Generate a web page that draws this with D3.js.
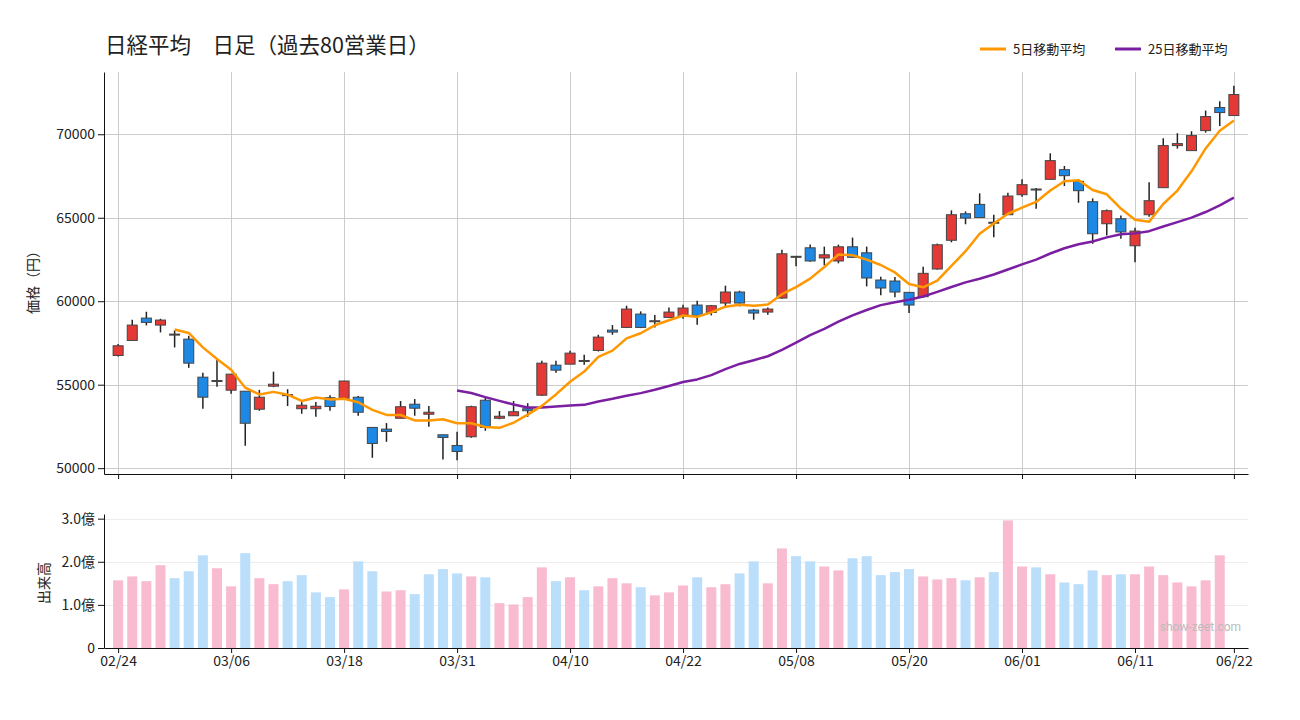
<!DOCTYPE html>
<html>
<meta charset="utf-8">
<style>
body {
  margin: 0;
  background-color: #fff;
  font-family: "Noto Sans CJK JP", "Noto Sans", sans-serif;
}
.grid line { stroke: #cccccc; stroke-width: 1; }
.vgrid line { stroke: #ececec; stroke-width: 1; }
.axis path, .axis line { stroke: #111; }
.axis text { font-size: 14px; fill: #222; font-family: "Noto Sans CJK JP", sans-serif; }
.wick { stroke: #222; stroke-width: 1.5; }
.body { stroke: #444; stroke-width: 1; }
.ma { fill: none; stroke-width: 2.5; stroke-linejoin: round; }
</style>
<body>
<script src="https://d3js.org/d3.v7.min.js"></script>
<script>

// trading days (last 80)
var dates = ["02/24","02/25","02/26","02/27",
  "03/02","03/03","03/04","03/05","03/06","03/09","03/10","03/11","03/12","03/13",
  "03/16","03/17","03/18","03/19","03/23","03/24","03/25","03/26","03/27","03/30","03/31",
  "04/01","04/02","04/03","04/06","04/07","04/08","04/09","04/10","04/13","04/14","04/15",
  "04/16","04/17","04/20","04/21","04/22","04/23","04/24","04/27","04/28","04/30",
  "05/01","05/07","05/08","05/11","05/12","05/13","05/14","05/15","05/18","05/19","05/20",
  "05/21","05/22","05/25","05/26","05/27","05/28","05/29",
  "06/01","06/02","06/03","06/04","06/05","06/08","06/09","06/10","06/11","06/12",
  "06/15","06/16","06/17","06/18","06/19","06/22"];

var open = [56750,57650,58990,58570,58020,57730,55450,55240,54670,54610,
  53530,54910,54400,53560,53560,54220,54180,54250,52440,52340,
  52990,53830,53230,52000,51360,51880,54070,52990,53140,53560,
  54370,56170,56230,56450,57050,58270,58430,59230,58830,59030,
  59150,59770,59330,59890,60550,59470,59350,60190,62690,63200,
  62590,62410,63260,62900,61270,61210,60530,60270,61930,63650,
  65240,65800,64730,65180,66380,66720,67300,67880,67180,65960,
  64640,64940,63320,65180,66800,69320,69020,70220,71600,71120];

var high = [57430,58890,59370,58950,58250,57930,55710,56530,55630,54610,
  54690,55780,54730,53960,53960,54370,55230,54330,52440,52700,
  54020,54140,53720,52000,52180,53740,54220,53420,54020,53890,
  56430,56430,57030,56790,57990,58570,59730,59390,59170,59630,
  59790,60030,59770,60930,60630,59530,59630,63090,62690,63390,
  63270,63390,63810,63270,61470,61450,60530,62070,63450,65440,
  65380,66460,65180,66500,67300,66780,68860,68100,67300,66160,
  65500,65140,64400,67120,69760,70060,70180,71420,71980,72900];

var low = [56690,57650,58550,58130,57230,56010,53560,54880,54460,51340,
  53440,54850,53720,53260,53080,53440,54160,53140,50620,51580,
  52990,53140,52480,50520,50480,51820,52240,52930,53140,53080,
  54320,55720,56230,56190,56990,57990,58390,58390,58430,58990,
  58950,58590,59150,59590,59690,58890,59190,60150,62090,62370,
  62150,62270,62600,60890,60350,60230,59290,60230,61890,63530,
  64610,65010,63830,65180,66260,65540,67300,66900,65900,63440,
  63930,63740,62330,65060,66800,69140,69020,70100,70500,71120];

var close = [57330,58570,58730,58870,58030,56290,54250,55250,55630,52690,
  54250,55030,54400,53770,53710,53690,55220,53350,51480,52200,
  53680,53590,53350,51840,51000,53680,52440,53110,53380,53440,
  56290,55870,56890,56450,57850,58150,59530,58430,58830,59350,
  59590,59150,59730,60550,59890,59290,59530,62840,62690,62410,
  62780,63260,62630,61390,60790,60550,59770,61670,63380,65180,
  64980,65010,64730,66300,66980,66720,68420,67520,66620,64040,
  65420,64150,64200,66020,69320,69440,69920,71060,71300,72380];

// volume in 億株 (today not yet available)
var volume = [1.57,1.66,1.55,1.92,1.62,1.78,2.15,1.85,1.43,2.20,
  1.62,1.48,1.55,1.69,1.29,1.18,1.36,2.01,1.78,1.31,
  1.34,1.25,1.71,1.83,1.73,1.66,1.64,1.04,1.01,1.18,
  1.87,1.55,1.64,1.34,1.43,1.62,1.50,1.41,1.22,1.29,
  1.45,1.64,1.41,1.48,1.73,2.01,1.50,2.31,2.13,2.01,
  1.89,1.80,2.08,2.13,1.69,1.76,1.83,1.66,1.59,1.62,
  1.57,1.64,1.76,2.96,1.89,1.87,1.71,1.52,1.48,1.80,
  1.69,1.71,1.71,1.89,1.69,1.52,1.43,1.57,2.15];

var tickDates = ["02/24","03/06","03/18","03/31","04/10","04/22","05/08","05/20","06/01","06/11","06/22"];
var priceTicks = [50000,55000,60000,65000,70000];
var volTicks = [0,1,2,3];

var colUp = "#e53935", colDown = "#1e88e5";
var volUp = "#f8bbd0", volDown = "#bbdefb";

// layout
var W = 1300, H = 720;
var left = 104, right = 1248;
var mainTop = 72, mainBottom = 474;
var volTop = 514, volBottom = 648;

var svg = d3.select("body").append("svg")
    .attr("width", W)
    .attr("height", H);

var n = dates.length;
var tickIdx = tickDates.map(function(d) { return dates.indexOf(d); });

var x = d3.scaleLinear()
    .domain([-1, n])
    .range([left, right]);

var lo = d3.min(low), hi = d3.max(high), pad = (hi - lo) * 0.037;
var y = d3.scaleLinear()
    .domain([lo - pad, hi + pad])
    .range([mainBottom, mainTop]);

var yv = d3.scaleLinear()
    .domain([0, d3.max(volume) * 1.05])
    .range([volBottom, volTop]);

// moving averages from closing prices
function movingAvg(k) {
  var out = [];
  for (var i = k - 1; i < n; i++) {
    out.push({i: i, v: d3.mean(close.slice(i - k + 1, i + 1))});
  }
  return out;
}
var ma5 = movingAvg(5), ma25 = movingAvg(25);

// grid - main
svg.append("g")
    .attr("class", "grid")
    .selectAll("line.h")
    .data(priceTicks)
    .join("line")
    .attr("x1", left).attr("x2", right)
    .attr("y1", function(d) { return Math.round(y(d)) + 0.5; })
    .attr("y2", function(d) { return Math.round(y(d)) + 0.5; });

svg.append("g")
    .attr("class", "grid")
    .selectAll("line.v")
    .data(tickIdx)
    .join("line")
    .attr("x1", function(d) { return Math.round(x(d)) + 0.5; })
    .attr("x2", function(d) { return Math.round(x(d)) + 0.5; })
    .attr("y1", mainTop).attr("y2", mainBottom);

// grid - volume
svg.append("g")
    .attr("class", "vgrid")
    .selectAll("line")
    .data(volTicks.slice(1))
    .join("line")
    .attr("x1", left).attr("x2", right)
    .attr("y1", function(d) { return Math.round(yv(d)) + 0.5; })
    .attr("y2", function(d) { return Math.round(yv(d)) + 0.5; });

// volume bars
svg.append("g")
    .selectAll("rect")
    .data(volume)
    .join("rect")
    .attr("x", function(d, i) { return x(i) - 5; })
    .attr("width", 10)
    .attr("y", function(d) { return yv(d); })
    .attr("height", function(d) { return yv(0) - yv(d); })
    .attr("fill", function(d, i) { return (i === 0 || close[i] >= close[i - 1]) ? volUp : volDown; });

// candles
var candles = svg.append("g")
    .selectAll("g")
    .data(d3.range(n))
    .join("g");

candles.append("line")
    .attr("class", "wick")
    .attr("x1", function(i) { return x(i); })
    .attr("x2", function(i) { return x(i); })
    .attr("y1", function(i) { return y(high[i]); })
    .attr("y2", function(i) { return y(low[i]); });

candles.append("rect")
    .attr("class", "body")
    .attr("x", function(i) { return x(i) - 5; })
    .attr("width", 10)
    .attr("y", function(i) { return y(Math.max(open[i], close[i])); })
    .attr("height", function(i) { return Math.max(1, Math.abs(y(open[i]) - y(close[i]))); })
    .attr("fill", function(i) { return close[i] >= open[i] ? colUp : colDown; });

// moving average lines
var line = d3.line()
    .x(function(d) { return x(d.i); })
    .y(function(d) { return y(d.v); });

svg.append("path")
    .datum(ma25)
    .attr("class", "ma")
    .attr("stroke", "#7b1fa2")
    .attr("d", line);

svg.append("path")
    .datum(ma5)
    .attr("class", "ma")
    .attr("stroke", "#ff9800")
    .attr("d", line);

// axes
svg.append("g")
    .attr("class", "axis")
    .attr("transform", "translate(" + left + ",0)")
    .call(d3.axisLeft(y).tickValues(priceTicks).tickSize(6).tickSizeOuter(0).tickPadding(3)
      .tickFormat(d3.format("d")));

svg.append("g")
    .attr("class", "axis")
    .attr("transform", "translate(0," + mainBottom + ")")
    .call(d3.axisBottom(x).tickValues(tickIdx).tickFormat("").tickSize(5).tickSizeOuter(0));

svg.append("g")
    .attr("class", "axis")
    .attr("transform", "translate(" + left + ",0)")
    .call(d3.axisLeft(yv).tickValues(volTicks).tickSize(6).tickSizeOuter(0).tickPadding(3)
      .tickFormat(function(d) { return d === 0 ? "0" : d.toFixed(1) + "億"; }));

svg.append("g")
    .attr("class", "axis")
    .attr("transform", "translate(0," + volBottom + ")")
    .call(d3.axisBottom(x).tickValues(tickIdx).tickSize(5).tickSizeOuter(0).tickPadding(3)
      .tickFormat(function(d) { return dates[d]; }));

// axis titles
svg.append("text")
    .attr("transform", "translate(38,279) rotate(-90)")
    .attr("text-anchor", "middle")
    .attr("font-size", 14)
    .attr("fill", "#222")
    .text("価格（円）");

svg.append("text")
    .attr("transform", "translate(49,583) rotate(-90)")
    .attr("text-anchor", "middle")
    .attr("font-size", 14)
    .attr("fill", "#222")
    .text("出来高");

// title
svg.append("text")
    .attr("x", 105)
    .attr("y", 53)
    .attr("font-size", 21.5)
    .attr("fill", "#222")
    .text("日経平均　日足（過去80営業日）");

// legend
var legend = [{name: "5日移動平均", color: "#ff9800", x: 980},
              {name: "25日移動平均", color: "#7b1fa2", x: 1115}];
var lg = svg.append("g").selectAll("g").data(legend).join("g");
lg.append("line")
    .attr("x1", function(d) { return d.x; })
    .attr("x2", function(d) { return d.x + 26; })
    .attr("y1", 49).attr("y2", 49)
    .attr("stroke", function(d) { return d.color; })
    .attr("stroke-width", 3);
lg.append("text")
    .attr("x", function(d) { return d.x + 33; })
    .attr("y", 54)
    .attr("font-size", 13)
    .attr("fill", "#222")
    .text(function(d) { return d.name; });

// watermark
svg.append("text")
    .attr("x", 1241)
    .attr("y", 631)
    .attr("text-anchor", "end")
    .attr("font-size", 12)
    .attr("fill", "#bbbbbb")
    .attr("font-family", "Roboto, sans-serif")
    .text("show-zeet.com");

</script>
</body>
</html>
